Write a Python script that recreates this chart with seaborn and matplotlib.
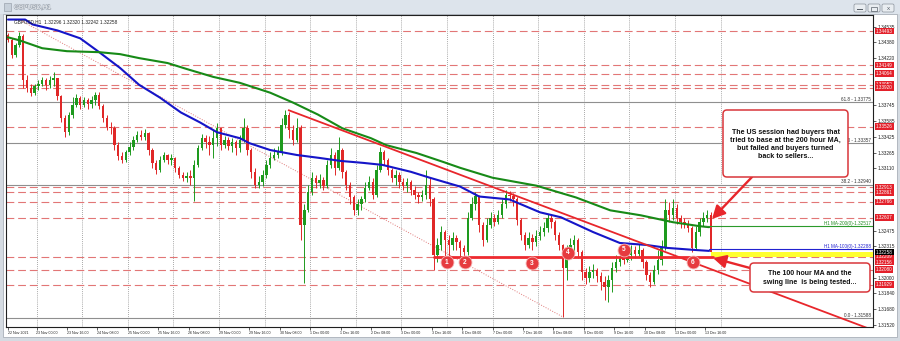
import matplotlib
matplotlib.use("Agg")
import matplotlib.pyplot as plt
import matplotlib.patheffects as pe
from matplotlib.patches import Rectangle, FancyBboxPatch
from matplotlib.transforms import blended_transform_factory, Affine2D
import numpy as np
import pandas as pd
import seaborn as sns

# ------------------------------------------------------------------ data
# 2-hour candles, position = trading hours since 22 Nov 09:00
first_open = 1.3445
close = [1.3440, 1.3425, 1.3435, 1.3444, 1.3400, 1.3392, 1.3387, 1.3394, 1.3396, 1.3400,
         1.3395, 1.3400, 1.3402, 1.3384, 1.3361, 1.3347, 1.3364, 1.3375, 1.3382, 1.3375,
         1.3380, 1.3376, 1.3380, 1.3385, 1.3374, 1.3361, 1.3352, 1.3351, 1.3334, 1.3323,
         1.3319, 1.3327, 1.3332, 1.3339, 1.3344, 1.3342, 1.3346, 1.3329, 1.3316, 1.3309,
         1.3319, 1.3324, 1.3319, 1.3321, 1.3311, 1.3304, 1.3301, 1.3303, 1.3301, 1.3314,
         1.3331, 1.3341, 1.3337, 1.3334, 1.3341, 1.3351, 1.3334, 1.3339, 1.3333, 1.3337,
         1.3331, 1.3339, 1.3351, 1.3329, 1.3307, 1.3294, 1.3297, 1.3304, 1.3314, 1.3321,
         1.3324, 1.3327, 1.3354, 1.3364, 1.3349, 1.3339, 1.3351, 1.3253, 1.3268, 1.3287,
         1.3301, 1.3296, 1.3299, 1.3293, 1.3314, 1.3324, 1.3311, 1.3329, 1.3307, 1.3294,
         1.3281, 1.3268, 1.3274, 1.3279, 1.3291, 1.3297, 1.3284, 1.3309, 1.3327, 1.3319,
         1.3309, 1.3301, 1.3304, 1.3297, 1.3293, 1.3297, 1.3289, 1.3284, 1.3281, 1.3284,
         1.3294, 1.3279, 1.3223, 1.3233, 1.3246, 1.3238, 1.3233, 1.3240, 1.3236, 1.3230,
         1.3226, 1.3260, 1.3274, 1.3283, 1.3253, 1.3238, 1.3253, 1.3260, 1.3256, 1.3263,
         1.3274, 1.3284, 1.3283, 1.3279, 1.3258, 1.3243, 1.3233, 1.3240, 1.3236, 1.3242,
         1.3246, 1.3250, 1.3260, 1.3256, 1.3243, 1.3233, 1.3210, 1.3226, 1.3233, 1.3238,
         1.3226, 1.3206, 1.3200, 1.3206, 1.3208, 1.3202, 1.3196, 1.3190, 1.3198, 1.3210,
         1.3216, 1.3220, 1.3218, 1.3223, 1.3228, 1.3224, 1.3228, 1.3216, 1.3203, 1.3196,
         1.3208, 1.3218, 1.3230, 1.3268, 1.3263, 1.3270, 1.3260, 1.3256, 1.3254, 1.3250,
         1.3230, 1.3246, 1.3256, 1.3260, 1.3263, 1.3226]
high = [1.3447, 1.3442, 1.3437, 1.3448, 1.3446, 1.3405, 1.3396, 1.3396, 1.3400, 1.3403,
        1.3402, 1.3404, 1.3408, 1.3402, 1.3385, 1.3364, 1.3367, 1.3383, 1.3386, 1.3384,
        1.3383, 1.3382, 1.3384, 1.3388, 1.3388, 1.3376, 1.3364, 1.3357, 1.3353, 1.3337,
        1.3327, 1.3329, 1.3337, 1.3343, 1.3348, 1.3349, 1.3350, 1.3347, 1.3331, 1.3319,
        1.3323, 1.3327, 1.3325, 1.3325, 1.3322, 1.3313, 1.3307, 1.3307, 1.3309, 1.3319,
        1.3334, 1.3345, 1.3344, 1.3343, 1.3349, 1.3356, 1.3351, 1.3343, 1.3342, 1.3341,
        1.3339, 1.3344, 1.3361, 1.3354, 1.3331, 1.3311, 1.3303, 1.3309, 1.3319, 1.3327,
        1.3331, 1.3333, 1.3361, 1.3369, 1.3367, 1.3354, 1.3361, 1.3354, 1.3274, 1.3294,
        1.3307, 1.3304, 1.3305, 1.3302, 1.3319, 1.3331, 1.3327, 1.3342, 1.3331, 1.3309,
        1.3297, 1.3284, 1.3279, 1.3283, 1.3297, 1.3303, 1.3301, 1.3314, 1.3332, 1.3329,
        1.3321, 1.3311, 1.3309, 1.3307, 1.3301, 1.3301, 1.3299, 1.3293, 1.3287, 1.3289,
        1.3309, 1.3301, 1.3281, 1.3240, 1.3252, 1.3248, 1.3243, 1.3246, 1.3243, 1.3238,
        1.3233, 1.3266, 1.3281, 1.3287, 1.3284, 1.3256, 1.3260, 1.3266, 1.3264, 1.3268,
        1.3279, 1.3289, 1.3288, 1.3286, 1.3281, 1.3260, 1.3246, 1.3246, 1.3244, 1.3248,
        1.3252, 1.3256, 1.3264, 1.3263, 1.3258, 1.3246, 1.3234, 1.3233, 1.3240, 1.3243,
        1.3240, 1.3228, 1.3210, 1.3212, 1.3214, 1.3210, 1.3206, 1.3202, 1.3203, 1.3216,
        1.3223, 1.3226, 1.3225, 1.3228, 1.3233, 1.3232, 1.3234, 1.3230, 1.3218, 1.3206,
        1.3213, 1.3228, 1.3238, 1.3279, 1.3276, 1.3279, 1.3274, 1.3263, 1.3260, 1.3258,
        1.3252, 1.3252, 1.3260, 1.3266, 1.3268, 1.3266]
low = [1.3438, 1.3422, 1.3423, 1.3433, 1.3392, 1.3388, 1.3384, 1.3385, 1.3390, 1.3394,
       1.3390, 1.3392, 1.3394, 1.3380, 1.3357, 1.3342, 1.3344, 1.3361, 1.3373, 1.3371,
       1.3373, 1.3371, 1.3372, 1.3375, 1.3371, 1.3357, 1.3349, 1.3345, 1.3329, 1.3319,
       1.3316, 1.3317, 1.3324, 1.3329, 1.3337, 1.3339, 1.3339, 1.3324, 1.3311, 1.3305,
       1.3307, 1.3317, 1.3315, 1.3314, 1.3307, 1.3301, 1.3298, 1.3297, 1.3294, 1.3277,
       1.3312, 1.3329, 1.3331, 1.3324, 1.3321, 1.3333, 1.3329, 1.3331, 1.3329, 1.3327,
       1.3324, 1.3327, 1.3337, 1.3324, 1.3301, 1.3291, 1.3291, 1.3293, 1.3301, 1.3311,
       1.3319, 1.3321, 1.3324, 1.3351, 1.3341, 1.3334, 1.3337, 1.3238, 1.3195, 1.3266,
       1.3284, 1.3291, 1.3291, 1.3289, 1.3291, 1.3311, 1.3304, 1.3309, 1.3301, 1.3289,
       1.3274, 1.3263, 1.3263, 1.3268, 1.3276, 1.3289, 1.3279, 1.3281, 1.3307, 1.3314,
       1.3304, 1.3297, 1.3294, 1.3291, 1.3289, 1.3287, 1.3284, 1.3279, 1.3275, 1.3277,
       1.3279, 1.3272, 1.3208, 1.3216, 1.3228, 1.3220, 1.3220, 1.3228, 1.3228, 1.3222,
       1.3222, 1.3223, 1.3258, 1.3268, 1.3246, 1.3232, 1.3236, 1.3250, 1.3252, 1.3254,
       1.3260, 1.3270, 1.3277, 1.3272, 1.3253, 1.3238, 1.3228, 1.3230, 1.3228, 1.3232,
       1.3238, 1.3242, 1.3246, 1.3250, 1.3238, 1.3228, 1.3160, 1.3198, 1.3220, 1.3226,
       1.3220, 1.3198, 1.3193, 1.3196, 1.3200, 1.3196, 1.3187, 1.3177, 1.3175, 1.3185,
       1.3206, 1.3212, 1.3214, 1.3216, 1.3218, 1.3220, 1.3222, 1.3210, 1.3198, 1.3190,
       1.3193, 1.3204, 1.3213, 1.3228, 1.3256, 1.3258, 1.3254, 1.3250, 1.3250, 1.3246,
       1.3226, 1.3228, 1.3242, 1.3252, 1.3256, 1.3224]

ma100_h = [0, 9, 13, 26, 38, 48, 59, 69, 80, 91, 101, 110, 122, 127, 138, 152, 164, 175,
           187, 197, 212, 222, 238, 248, 264, 280, 291, 308, 322, 336, 347, 361, 369]
ma100 = [1.3461, 1.3461, 1.3456, 1.3450, 1.3442, 1.3428, 1.3412, 1.3395, 1.3382, 1.3367,
         1.3357, 1.3347, 1.3341, 1.3336, 1.3329, 1.3324, 1.3321, 1.3318, 1.3316, 1.3314,
         1.3307, 1.3301, 1.3292, 1.3282, 1.3279, 1.3266, 1.3261, 1.3246, 1.3235, 1.3233,
         1.3230, 1.3228, 1.3227]
ma200_h = [0, 6, 18, 31, 48, 59, 69, 84, 94, 108, 122, 138, 150, 163, 176, 191, 199, 215,
           229, 238, 255, 278, 299, 317, 333, 350, 364, 369]
ma200 = [1.3443, 1.3440, 1.3432, 1.3429, 1.3428, 1.3426, 1.3422, 1.3417, 1.3411, 1.3403,
         1.3397, 1.3387, 1.3377, 1.3365, 1.3351, 1.3341, 1.3334, 1.3326, 1.3317, 1.3311,
         1.3301, 1.3293, 1.3281, 1.3268, 1.3263, 1.3256, 1.3252, 1.3251]

level_prices = [1.34493, 1.34149, 1.34064, 1.33952, 1.33920, 1.33526, 1.32913, 1.32861,
                1.32766, 1.32607, 1.32209, 1.32080, 1.31929]
extra_red_labels = [1.32156]
fib_prices = [1.33775, 1.33357, 1.32940, 1.31588]
fib_names = ["61.8", "50", "38.2", "0.0"]
# price scale labels that are visible (the others sit under the red level tags)
price_ticks = [1.34535, 1.34380, 1.34220, 1.33745, 1.33585, 1.33425, 1.33265, 1.33110,
               1.32475, 1.32315, 1.32000, 1.31840, 1.31680, 1.31520]
time_tick_h = [0, 15, 31, 47, 63, 79, 95, 111, 127, 143, 159, 175, 191, 207, 223, 239,
               255, 271, 287, 303, 319, 335, 351, 367]
time_tick_labels = ["22 Nov 2021", "23 Nov 00:00", "23 Nov 16:00", "24 Nov 08:00",
                    "25 Nov 00:00", "25 Nov 16:00", "26 Nov 08:00", "29 Nov 00:00",
                    "29 Nov 16:00", "30 Nov 08:00", "1 Dec 00:00", "1 Dec 16:00",
                    "2 Dec 08:00", "3 Dec 00:00", "3 Dec 16:00", "6 Dec 08:00",
                    "7 Dec 00:00", "7 Dec 16:00", "8 Dec 08:00", "9 Dec 00:00",
                    "9 Dec 16:00", "10 Dec 08:00", "13 Dec 00:00", "13 Dec 16:00"]
day_grid_h = [15, 39, 63, 87, 111, 135, 159, 183, 207, 231, 255, 279, 303, 327, 351, 375]

swing_price = 1.32209
swing_h = [224, 371]
trend_h = [147.4, 455]
trend_p = [1.33695, 1.3147]
dotted_h = [6.3, 292.1]
dotted_p = [1.34605, 1.31601]
touch_h = [231, 240.5, 275.8, 294.7, 324.2, 360.5]
touch_p = [1.32157, 1.32157, 1.32147, 1.32249, 1.32279, 1.32157]
touch_num = ["1", "2", "3", "4", "5", "6"]
ma200_now = 1.32517
ma100_now = 1.32288
last_price = 1.32258
band_p = [1.32209, 1.32262]
header = "GBPUSD,H1  1.32296 1.32320 1.32242 1.32258"
note1 = "The US session had buyers that\ntried to base at the 200 hour MA,\nbut failed and buyers turned\nback to sellers..."
note2 = "The 100 hour MA and the\nswing line  is being tested..."

# ------------------------------------------------------------------ figure
sns.set_theme(style="white")
plt.rcParams['font.family'] = ['Liberation Sans', 'DejaVu Sans']

W, H = 900, 341
fig = plt.figure(figsize=(W / 100, H / 100), dpi=100)
fig.patch.set_facecolor('#d5dbe2')
PX = Affine2D().scale(0.01, -0.01).translate(0, H / 100) + fig.dpi_scale_trans  # pixel coords (top-left origin)

# window chrome (drawn below the axes)
fig.patches.append(Rectangle((3, 14), 894, 323, transform=PX, fc='white', ec='#a9b0b8', lw=0.6, zorder=-10))
fig.patches.append(Rectangle((0, 0), 900, 14, transform=PX, fc='#dde4ec', ec='none', zorder=-10))
fig.text(14, 7.5, "GBPUSD,H1", transform=PX, fontsize=4.6, color='#f7f9fb', va='center',
         path_effects=[pe.withStroke(linewidth=0.9, foreground='#a3abb5')], zorder=-5)
fig.patches.append(Rectangle((4, 3), 7, 8, transform=PX, fc='#c7d0da', ec='#8d96a0', lw=0.4, zorder=-5))
for bx in [854, 868, 882]:
    fig.patches.append(FancyBboxPatch((bx, 4), 12, 8, boxstyle='round,pad=0,rounding_size=1.5',
                                      transform=PX, fc='#e9edf1', ec='#8a929b', lw=0.5, zorder=-5))
fig.patches.append(Rectangle((857, 8.5), 6, 1.2, transform=PX, fc='#59616a', ec='none', zorder=-4))
fig.patches.append(Rectangle((871, 6.5), 6, 4, transform=PX, fc='none', ec='#59616a', lw=0.5, zorder=-4))
fig.text(888, 8.2, "x", transform=PX, fontsize=4.5, color='#59616a', ha='center', va='center', zorder=-4)

L, R, T, B = 6, 873, 15, 327
ax = fig.add_axes([L / W, 1 - B / H, (R - L) / W, (B - T) / H])
ax.set_zorder(1)
ax.set_facecolor('white')
h_left = (L - 8) / 1.9
h_right = (R - 8) / 1.9
ax.set_xlim(h_left, h_right)
ax.set_ylim(1.31500, 1.34656)

trans_ay = blended_transform_factory(ax.transAxes, ax.transData)

# grid
for g in day_grid_h:
    ax.axvline(g, color='#8c8c8c', lw=0.6, ls=(0, (1, 1.5)), zorder=0.5)

# horizontal levels
for p in level_prices:
    ax.axhline(p, color='#e27676', lw=0.8, ls=(0, (7, 3.5)), zorder=1)
for p in fib_prices:
    ax.axhline(p, color='#8f8f8f', lw=0.8, zorder=1)
for p, n in zip(fib_prices, fib_names):
    ax.text(0.998, p + 0.00004, f"{n} - {p:.5f}", transform=trans_ay, ha='right', va='bottom',
            fontsize=3.3, color='#303030', zorder=6)

# candles
hours = np.arange(len(close)) * 2
opens = [first_open] + close[:-1]
df = pd.DataFrame({'h': hours, 'open': opens, 'high': high, 'low': low, 'close': close})
up = df['close'] >= df['open']
colors = np.where(up, '#1e9a1e', '#e02828')
ax.vlines(df['h'], df['low'], df['high'], colors=colors, lw=0.7, zorder=3)
ax.bar(df['h'], df['close'] - df['open'], bottom=df['open'], width=1.35, color=colors,
       linewidth=0, zorder=3.1)

# moving averages
sns.lineplot(x=ma100_h, y=ma100, ax=ax, color='#1515c8', lw=1.5, zorder=4)
sns.lineplot(x=ma200_h, y=ma200, ax=ax, color='#178a17', lw=1.5, zorder=4)
ax.plot([ma200_h[-1] - 2, h_right], [ma200_now, ma200_now], color='#2b9a2b', lw=0.8, zorder=4)
ax.plot([ma100_h[-1], h_right], [ma100_now, ma100_now], color='#2222d0', lw=0.8, zorder=4)
ax.fill_between([370, h_right], band_p[0], band_p[1], color='#ffff2e', lw=0, zorder=3.5)
ax.text(0.998, ma200_now + 0.00003, "H1 MA-200(0)-1.32517", transform=trans_ay, ha='right',
        va='bottom', fontsize=3.3, color='#1f8a1f', zorder=6)
ax.text(0.998, ma100_now + 0.00003, "H1 MA-100(0)-1.32288", transform=trans_ay, ha='right',
        va='bottom', fontsize=3.3, color='#2222d0', zorder=6)

# trend lines
ax.plot(dotted_h, dotted_p, color='#e07a7a', lw=0.7, ls=(0, (1, 1.6)), zorder=2)
ax.plot(trend_h, trend_p, color='#e8262b', lw=1.3, zorder=5, solid_capstyle='butt')
ax.plot(swing_h, [swing_price, swing_price], color='#ee2a2f', lw=2.0, zorder=5)

# touch points
ax.scatter(touch_h, touch_p, s=86, color='#e63b3f', edgecolor='#f6b3b3', linewidth=0.6, zorder=7)
for hh, pp, n in zip(touch_h, touch_p, touch_num):
    ax.text(hh, pp, n, ha='center', va='center', fontsize=4.8, color='white',
            fontweight='bold', zorder=8)

# header
ax.text(0.009, 0.985, header, transform=ax.transAxes, fontsize=3.4, color='#202020',
        va='top', ha='left', zorder=9)

# axes styling
ax.yaxis.tick_right()
ax.set_yticks(price_ticks)
ax.set_yticklabels([f"{p:.5f}" for p in price_ticks])
ax.set_xticks(time_tick_h)
ax.set_xticklabels(time_tick_labels)
for lbl in ax.get_xticklabels():
    lbl.set_ha('left')
ax.tick_params(axis='y', right=True, left=False, direction='out', length=2, width=0.5,
               labelsize=3.4, pad=1.5, colors='#202020')
ax.tick_params(axis='x', bottom=True, direction='out', length=2, width=0.5,
               labelsize=2.6, pad=1.0, colors='#202020')
for s in ax.spines.values():
    s.set_color('#202020')
    s.set_linewidth(0.8)
ax.set_xlabel('')
ax.set_ylabel('')

# price tags on the axis
for p in level_prices + extra_red_labels:
    ax.text(1.0035, p, f"{p:.5f}", transform=trans_ay, ha='left', va='center', fontsize=3.3,
            color='white', clip_on=False, zorder=20,
            bbox=dict(boxstyle='square,pad=0.18', fc='#e3202a', ec='none'))
ax.text(1.0035, last_price, f"{last_price:.5f}", transform=trans_ay, ha='left', va='center',
        fontsize=3.3, color='white', clip_on=False, zorder=21,
        bbox=dict(boxstyle='square,pad=0.18', fc='black', ec='none'))

# annotation boxes (above the axes)
box1 = FancyBboxPatch((723, 110), 125, 67, boxstyle='round,pad=0,rounding_size=4', transform=PX,
                      fc='white', ec='#d9363a', lw=1.1, zorder=30)
box2 = FancyBboxPatch((750, 263), 120, 29, boxstyle='round,pad=0,rounding_size=4', transform=PX,
                      fc='white', ec='#d9363a', lw=1.1, zorder=30)
fig.patches.extend([box1, box2])
fig.text(785.5, 144.5, note1, transform=PX, ha='center', va='center', fontsize=5.1,
         fontweight='bold', color='#111111', linespacing=1.15, zorder=31)
fig.text(810, 278, note2, transform=PX, ha='center', va='center', fontsize=5.0,
         fontweight='bold', color='#111111', linespacing=1.35, zorder=31)

arrow_kw = dict(arrowstyle='-|>,head_length=0.55,head_width=0.28', color='#e8262b', lw=1.7,
                shrinkA=0, shrinkB=0, mutation_scale=14)
ax.annotate('', xy=(712, 219), xytext=(752, 177), xycoords=PX, textcoords=PX,
            arrowprops=arrow_kw, zorder=25, annotation_clip=False)
ax.annotate('', xy=(713, 258), xytext=(750, 268), xycoords=PX, textcoords=PX,
            arrowprops=arrow_kw, zorder=25, annotation_clip=False)

fig.savefig('out.png', dpi=100, facecolor=fig.get_facecolor())
